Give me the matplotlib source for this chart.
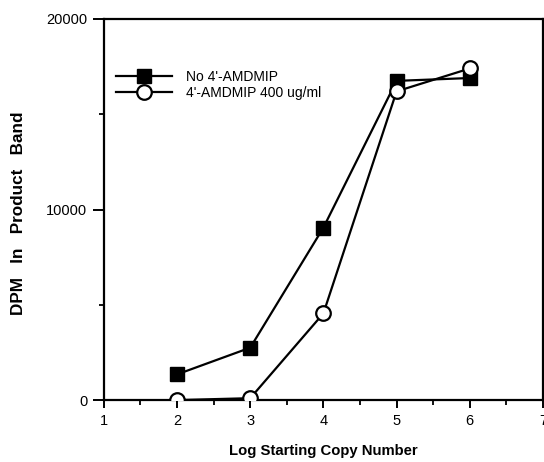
import matplotlib
matplotlib.use('Agg')
import matplotlib.pyplot as plt
from matplotlib.ticker import MultipleLocator

plt.rcParams['font.family'] = ['Liberation Sans', 'DejaVu Sans']

# data
log_copy = [2, 3, 4, 5, 6]
no_drug = [1350, 2750, 9050, 16750, 16900]
drug_400 = [0, 100, 4550, 16200, 17400]
labels = ["No 4'-AMDMIP", "4'-AMDMIP 400 ug/ml"]

fig = plt.figure(figsize=(5.44, 4.62), dpi=100)
ax = fig.add_axes([0.191, 0.134, 0.807, 0.825])

ax.plot(log_copy, no_drug, color='black', lw=1.6, marker='s', ms=9.5,
        mfc='black', mec='black', label=labels[0], zorder=3)
ax.plot(log_copy, drug_400, color='black', lw=1.6, marker='o', ms=10.5,
        mfc='white', mec='black', mew=1.6, label=labels[1], zorder=4)

ax.set_xlim(1, 7)
ax.set_ylim(0, 20000)
ax.xaxis.set_major_locator(MultipleLocator(1))
ax.xaxis.set_minor_locator(MultipleLocator(0.5))
ax.yaxis.set_major_locator(MultipleLocator(10000))
ax.yaxis.set_minor_locator(MultipleLocator(5000))
ax.tick_params(which='major', direction='out', length=6, width=1.4, labelsize=10.5, pad=4)
ax.tick_params(which='minor', direction='out', length=3.5, width=1.3)
ax.tick_params(axis='y', which='major', length=8)
for s in ax.spines.values():
    s.set_linewidth(1.6)

ax.set_xlabel('Log Starting Copy Number', fontsize=10.7, fontweight='bold')
ax.set_ylabel('DPM   In   Product   Band', fontsize=12.3, fontweight='bold')
ax.xaxis.set_label_coords(0.5, -0.116)
ax.yaxis.set_label_coords(-0.178, 0.49)

ax.legend(loc='upper left', bbox_to_anchor=(0.0, 0.90), frameon=False,
          fontsize=10, handlelength=4.0, handletextpad=1.0, labelspacing=0.2,
          borderaxespad=0.5)

fig.savefig('out.png', dpi=100)
plt.close()
